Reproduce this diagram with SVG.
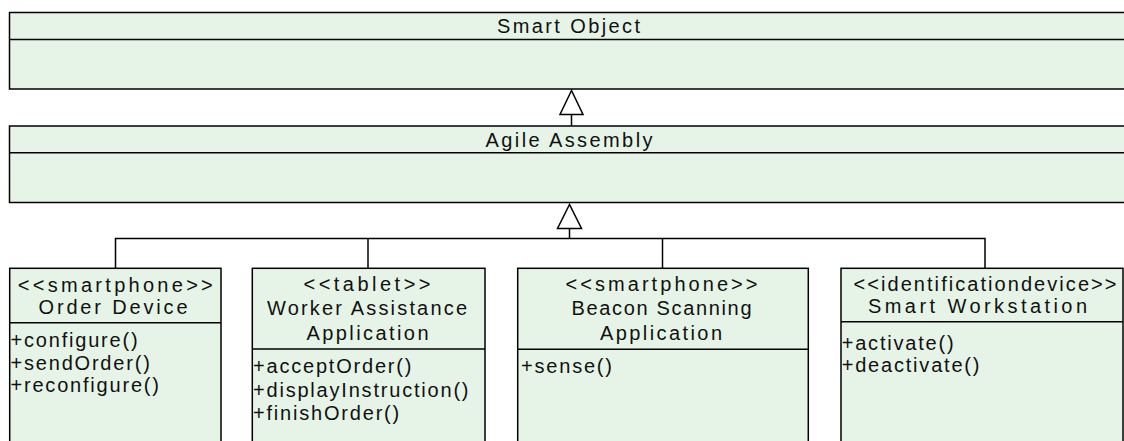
<svg xmlns="http://www.w3.org/2000/svg" width="1124" height="441" viewBox="0 0 1124 441">
<style>
.box{fill:#e6f4e7;stroke:#000;stroke-width:1.5}
.ln{stroke:#000;stroke-width:1.5;fill:none}
.tri{fill:#fff;stroke:#000;stroke-width:1.5;stroke-linejoin:miter}
text{font-family:"Liberation Sans",Arial,sans-serif;font-size:20px;fill:#111}
.h{text-anchor:middle}
.m{letter-spacing:1.8px}
</style>
<rect width="1124" height="441" fill="#fff"/>
<g id="smart-object">
<rect class="box" x="9.5" y="12.5" width="1118" height="76.5"/>
<line class="ln" x1="9.5" y1="39.5" x2="1127.5" y2="39.5"/>
<text class="h" x="568.5" y="33" textLength="143" lengthAdjust="spacing">Smart Object</text>
</g>
<g id="agile-assembly">
<rect class="box" x="9.5" y="126" width="1118" height="76.5"/>
<line class="ln" x1="9.5" y1="152.8" x2="1127.5" y2="152.8"/>
<text class="h" x="569" y="146.7" textLength="167" lengthAdjust="spacing">Agile Assembly</text>
</g>
<g id="order-device">
<rect class="box" x="9.7" y="268.3" width="211.3" height="180"/>
<line class="ln" x1="9.7" y1="322.7" x2="221" y2="322.7"/>
<text class="h" x="115.3" y="291.5" textLength="195" lengthAdjust="spacing">&lt;&lt;smartphone&gt;&gt;</text>
<text class="h" x="113" y="314.3" textLength="149" lengthAdjust="spacing">Order Device</text>
<text class="m" x="10.5" y="347.3">+configure()</text>
<text class="m" x="10.5" y="369.5">+sendOrder()</text>
<text class="m" x="10.5" y="391.7">+reconfigure()</text>
</g>
<g id="worker-assistance">
<rect class="box" x="252.3" y="268.3" width="232.7" height="180"/>
<line class="ln" x1="252.3" y1="349" x2="485" y2="349"/>
<text class="h" x="367" y="291" textLength="127" lengthAdjust="spacing">&lt;&lt;tablet&gt;&gt;</text>
<text class="h" x="367" y="315" textLength="200" lengthAdjust="spacing">Worker Assistance</text>
<text class="h" x="367.5" y="339.8" textLength="122" lengthAdjust="spacing">Application</text>
<text class="m" x="253" y="373.3">+acceptOrder()</text>
<text class="m" x="253" y="396.7">+displayInstruction()</text>
<text class="m" x="253" y="420">+finishOrder()</text>
</g>
<g id="beacon-scanning">
<rect class="box" x="517.7" y="268.3" width="290.6" height="180"/>
<line class="ln" x1="517.7" y1="349.3" x2="808.3" y2="349.3"/>
<text class="h" x="661.5" y="291" textLength="192" lengthAdjust="spacing">&lt;&lt;smartphone&gt;&gt;</text>
<text class="h" x="661.5" y="315" textLength="180" lengthAdjust="spacing">Beacon Scanning</text>
<text class="h" x="661" y="339.8" textLength="122" lengthAdjust="spacing">Application</text>
<text class="m" x="521" y="373.3">+sense()</text>
</g>
<g id="smart-workstation">
<rect class="box" x="841" y="268.3" width="282" height="180"/>
<line class="ln" x1="841" y1="321.7" x2="1123" y2="321.7"/>
<text class="h" x="985" y="291" textLength="263" lengthAdjust="spacing">&lt;&lt;identificationdevice&gt;&gt;</text>
<text class="h" x="977.5" y="313.3" textLength="219" lengthAdjust="spacing">Smart Workstation</text>
<text class="m" x="841.7" y="350">+activate()</text>
<text class="m" x="841.7" y="371.7">+deactivate()</text>
</g>
<g id="connectors">
<line class="ln" x1="571.5" y1="114.5" x2="571.5" y2="126"/>
<polygon class="tri" points="571.5,90.5 560,114.5 583,114.5"/>
<line class="ln" x1="569.5" y1="228.5" x2="569.5" y2="238.5"/>
<polygon class="tri" points="569.5,204.5 557.5,228.5 581.5,228.5"/>
<polyline class="ln" points="115.5,268.3 115.5,238.5 985,238.5 985,268.3"/>
<line class="ln" x1="368" y1="238.5" x2="368" y2="268.3"/>
<line class="ln" x1="662.5" y1="238.5" x2="662.5" y2="268.3"/>
</g>
</svg>
